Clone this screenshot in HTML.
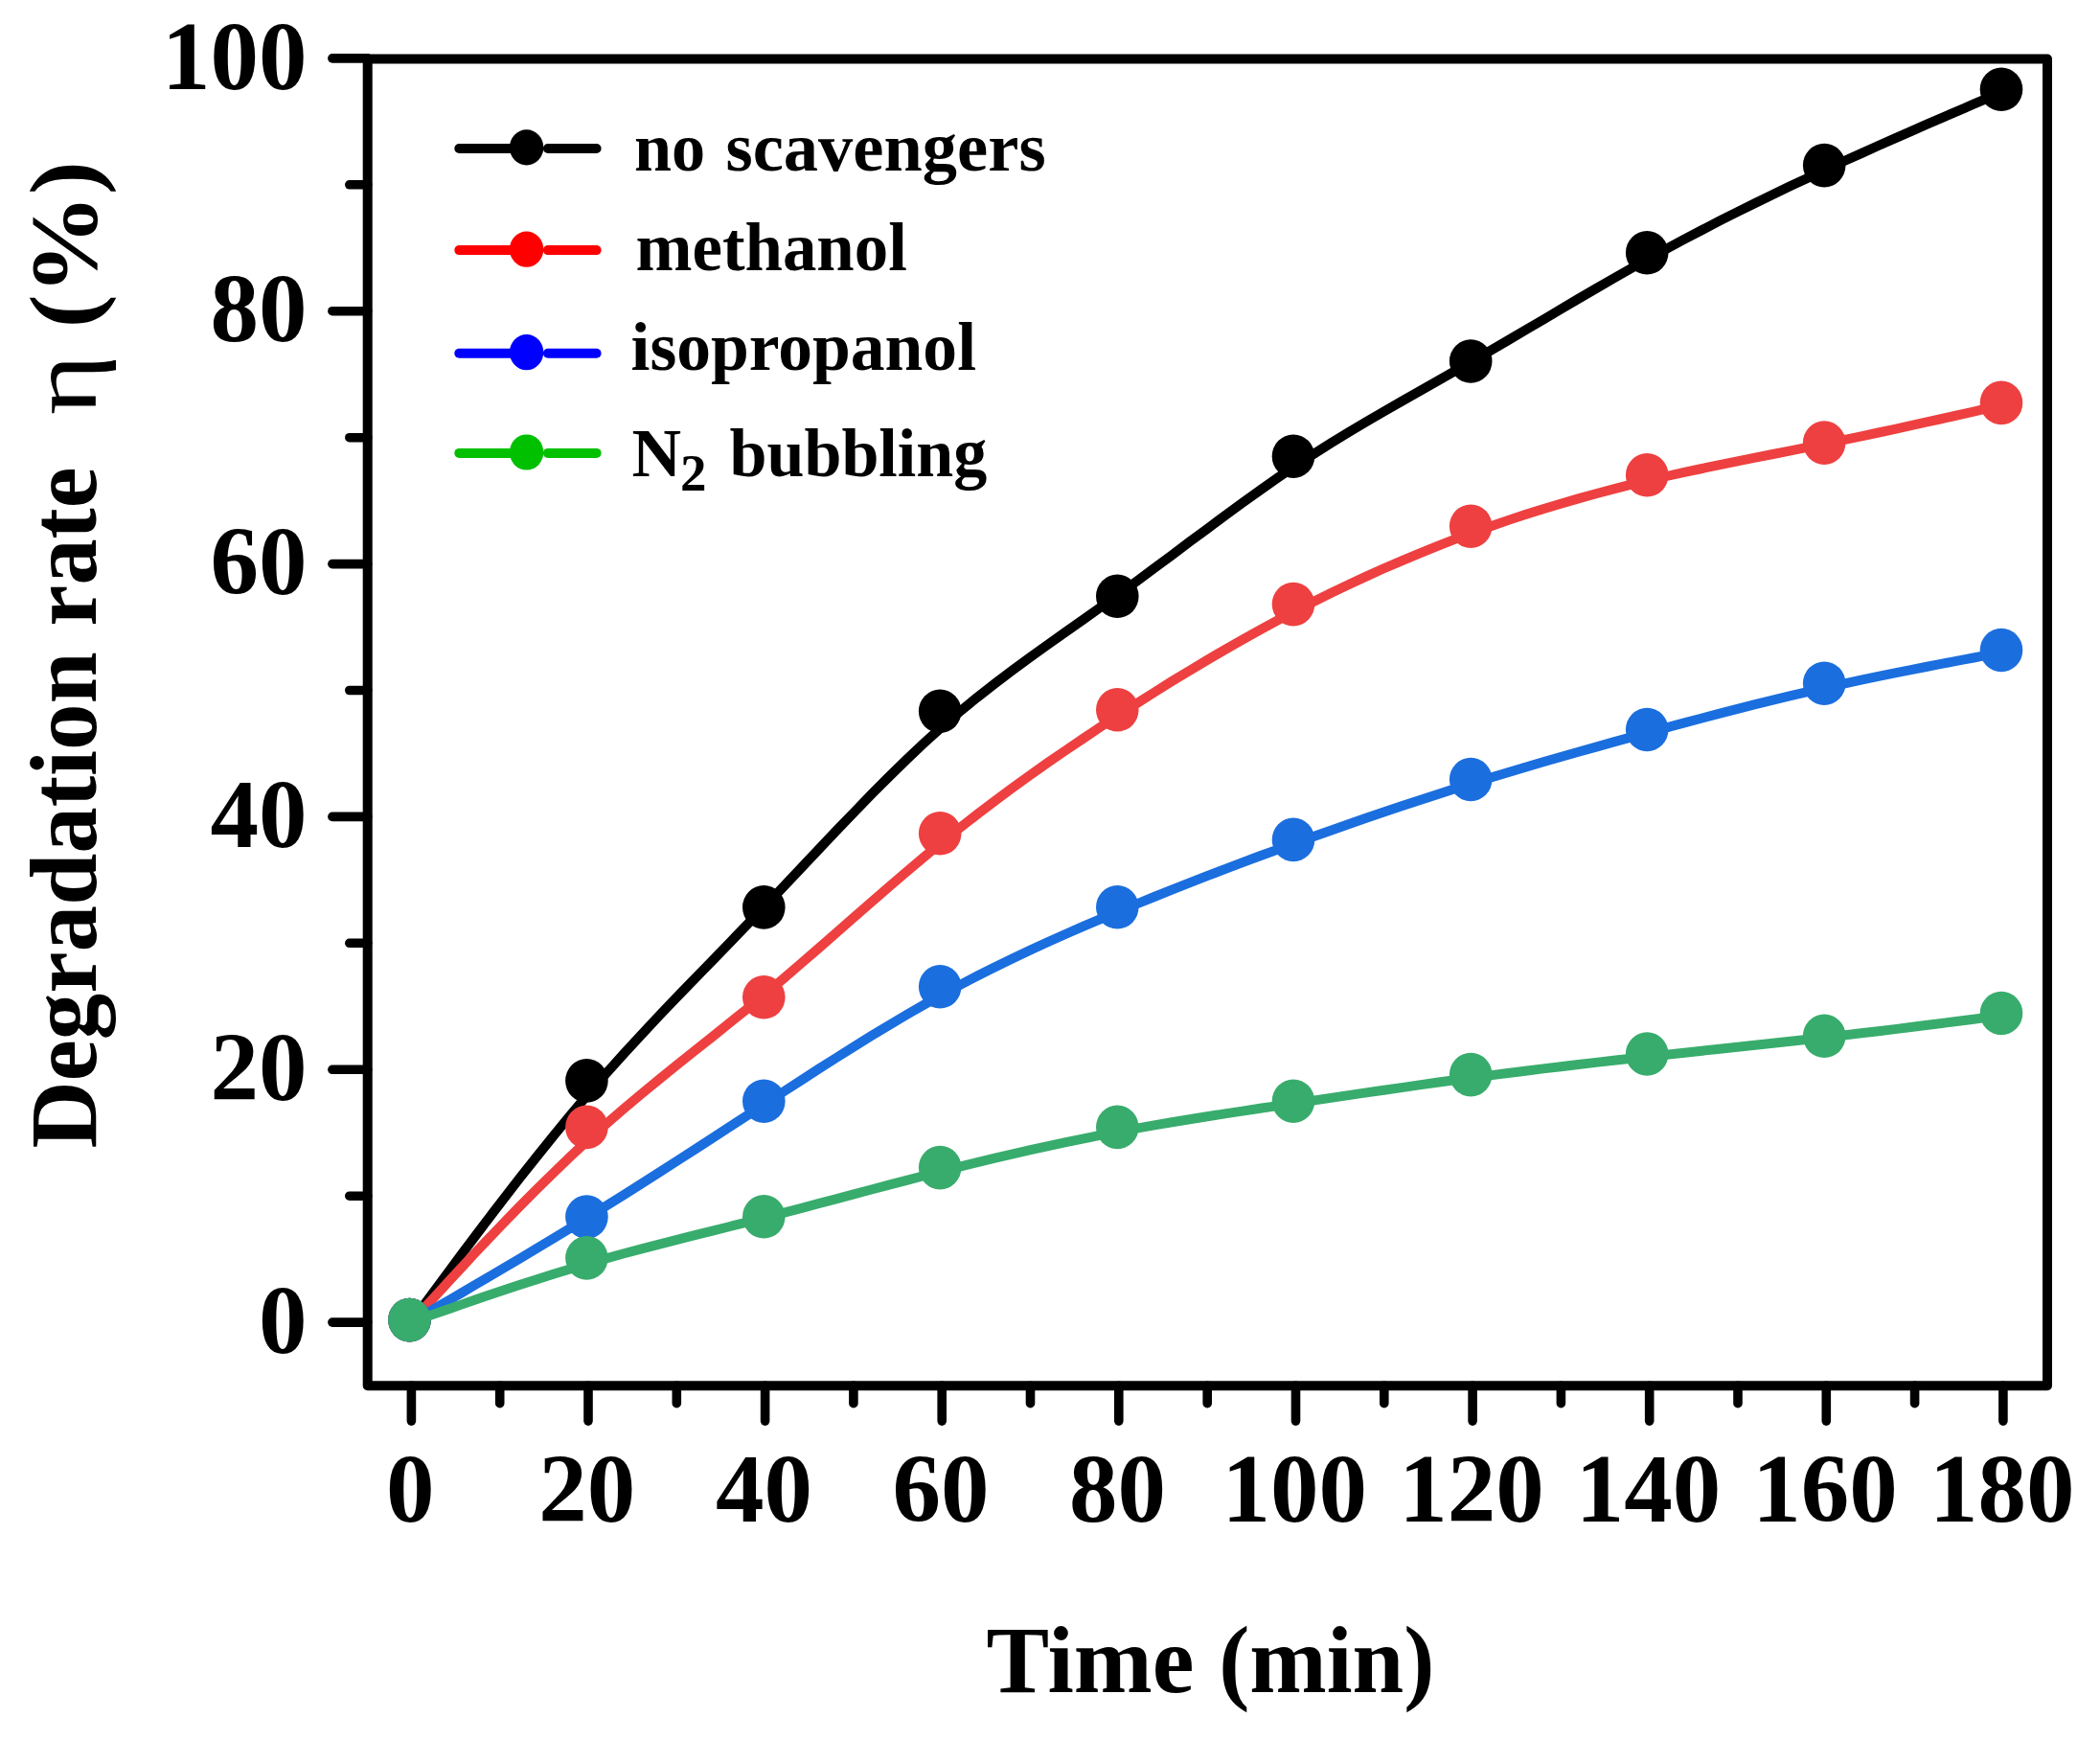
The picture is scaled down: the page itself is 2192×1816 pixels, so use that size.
<!DOCTYPE html>
<html lang="en"><head><meta charset="utf-8"><title>Degradation rate vs time</title>
<style>
html,body{margin:0;padding:0;background:#fff;}
body{width:2192px;height:1816px;overflow:hidden;}
svg{display:block;}
text{font-family:"Liberation Serif",serif;font-weight:bold;fill:#000;}
.tk{font-size:101px;}
</style></head><body>
<svg width="2192" height="1816" viewBox="0 0 2192 1816">
<rect x="0" y="0" width="2192" height="1816" fill="#ffffff"/>

<g stroke="#000" stroke-width="9.6" stroke-linecap="round" fill="none">
<line x1="346.9" y1="1380.1" x2="383.7" y2="1380.1"/>
<line x1="364.8" y1="1248.2" x2="383.7" y2="1248.2"/>
<line x1="346.9" y1="1116.3" x2="383.7" y2="1116.3"/>
<line x1="364.8" y1="984.3" x2="383.7" y2="984.3"/>
<line x1="346.9" y1="852.4" x2="383.7" y2="852.4"/>
<line x1="364.8" y1="720.5" x2="383.7" y2="720.5"/>
<line x1="346.9" y1="588.6" x2="383.7" y2="588.6"/>
<line x1="364.8" y1="456.7" x2="383.7" y2="456.7"/>
<line x1="346.9" y1="324.7" x2="383.7" y2="324.7"/>
<line x1="364.8" y1="192.8" x2="383.7" y2="192.8"/>
<line x1="346.9" y1="60.9" x2="383.7" y2="60.9"/>
<line x1="429.4" y1="1446.2" x2="429.4" y2="1483.1"/>
<line x1="521.7" y1="1446.2" x2="521.7" y2="1464.7"/>
<line x1="614.0" y1="1446.2" x2="614.0" y2="1483.1"/>
<line x1="706.3" y1="1446.2" x2="706.3" y2="1464.7"/>
<line x1="798.6" y1="1446.2" x2="798.6" y2="1483.1"/>
<line x1="890.9" y1="1446.2" x2="890.9" y2="1464.7"/>
<line x1="983.2" y1="1446.2" x2="983.2" y2="1483.1"/>
<line x1="1075.5" y1="1446.2" x2="1075.5" y2="1464.7"/>
<line x1="1167.8" y1="1446.2" x2="1167.8" y2="1483.1"/>
<line x1="1260.2" y1="1446.2" x2="1260.2" y2="1464.7"/>
<line x1="1352.5" y1="1446.2" x2="1352.5" y2="1483.1"/>
<line x1="1444.8" y1="1446.2" x2="1444.8" y2="1464.7"/>
<line x1="1537.1" y1="1446.2" x2="1537.1" y2="1483.1"/>
<line x1="1629.4" y1="1446.2" x2="1629.4" y2="1464.7"/>
<line x1="1721.7" y1="1446.2" x2="1721.7" y2="1483.1"/>
<line x1="1814.0" y1="1446.2" x2="1814.0" y2="1464.7"/>
<line x1="1906.3" y1="1446.2" x2="1906.3" y2="1483.1"/>
<line x1="1998.6" y1="1446.2" x2="1998.6" y2="1464.7"/>
<line x1="2090.9" y1="1446.2" x2="2090.9" y2="1483.1"/>
</g>
<rect x="383.7" y="61.6" width="1753.3" height="1384.6" fill="none" stroke="#000" stroke-width="10" stroke-linejoin="round"/>
<path d="M429.4,1379.8 L429.4,1379.8 L429.6,1379.5 L430.2,1378.7 L431.4,1377.1 L433.3,1374.6 L436.1,1370.8 L440.0,1365.5 L445.2,1358.5 L451.9,1349.5 L460.2,1338.2 L470.4,1324.5 L482.2,1308.6 L495.4,1290.9 L510.0,1271.7 L525.7,1251.2 L542.3,1229.8 L559.7,1207.8 L577.6,1185.6 L595.8,1163.4 L614.3,1141.5 L632.8,1120.3 L651.3,1099.7 L669.8,1079.6 L688.2,1059.9 L706.7,1040.5 L725.2,1021.4 L743.7,1002.4 L762.1,983.4 L780.6,964.3 L799.0,945.2 L817.5,925.8 L835.9,906.3 L854.3,886.8 L872.7,867.3 L891.2,848.1 L909.6,829.1 L928.0,810.6 L946.4,792.6 L964.9,775.2 L983.3,758.6 L1001.8,742.8 L1020.2,727.7 L1038.7,713.2 L1057.2,699.3 L1075.6,685.7 L1094.1,672.5 L1112.6,659.4 L1131.1,646.4 L1149.5,633.3 L1168.0,620.1 L1186.4,606.7 L1204.8,593.1 L1223.2,579.4 L1241.6,565.6 L1260.1,551.9 L1278.5,538.2 L1296.9,524.8 L1315.3,511.6 L1333.7,498.7 L1352.1,486.2 L1370.6,474.2 L1389.1,462.5 L1407.5,451.3 L1426.0,440.3 L1444.5,429.5 L1463.0,418.9 L1481.5,408.4 L1500.0,397.9 L1518.4,387.4 L1536.9,376.9 L1555.4,366.2 L1573.8,355.4 L1592.2,344.5 L1610.7,333.7 L1629.1,322.8 L1647.5,311.9 L1666.0,301.2 L1684.4,290.5 L1702.8,280.0 L1721.3,269.7 L1739.7,259.6 L1758.2,249.7 L1776.7,240.0 L1795.1,230.4 L1813.6,221.1 L1832.1,211.9 L1850.6,202.9 L1869.1,194.1 L1887.6,185.4 L1906.1,176.8 L1924.5,168.3 L1942.8,160.1 L1960.7,152.0 L1978.0,144.4 L1994.6,137.1 L2010.3,130.2 L2024.9,123.9 L2038.2,118.1 L2050.0,113.1 L2060.1,108.7 L2068.4,105.1 L2075.1,102.3 L2080.3,100.0 L2084.2,98.4 L2087.1,97.2 L2088.9,96.3 L2090.1,95.9 L2090.7,95.6 L2090.9,95.5 L2090.9,95.5" fill="none" stroke="#000000" stroke-width="10" stroke-linejoin="round" stroke-linecap="round"/>
<g fill="#000000"><ellipse cx="427.5" cy="1377.6" rx="22.3" ry="22.8"/><ellipse cx="612.4" cy="1127.9" rx="22.3" ry="22.8"/><ellipse cx="797.3" cy="946.9" rx="22.3" ry="22.8"/><ellipse cx="981.2" cy="742.3" rx="22.3" ry="22.8"/><ellipse cx="1166.3" cy="622.3" rx="22.3" ry="22.8"/><ellipse cx="1350.0" cy="476.2" rx="22.3" ry="22.8"/><ellipse cx="1535.2" cy="377.0" rx="22.3" ry="22.8"/><ellipse cx="1719.2" cy="263.8" rx="22.3" ry="22.8"/><ellipse cx="1904.2" cy="172.6" rx="22.3" ry="22.8"/><ellipse cx="2089.0" cy="93.3" rx="22.3" ry="22.8"/></g>
<path d="M429.4,1379.8 L429.4,1379.8 L429.6,1379.5 L430.2,1378.9 L431.4,1377.7 L433.3,1375.6 L436.1,1372.6 L440.0,1368.3 L445.2,1362.6 L451.9,1355.4 L460.2,1346.3 L470.4,1335.2 L482.2,1322.5 L495.4,1308.2 L510.0,1292.8 L525.7,1276.4 L542.3,1259.3 L559.7,1241.8 L577.6,1224.2 L595.8,1206.7 L614.3,1189.5 L632.8,1173.0 L651.3,1157.0 L669.8,1141.5 L688.2,1126.3 L706.7,1111.4 L725.2,1096.7 L743.7,1082.0 L762.1,1067.2 L780.6,1052.3 L799.0,1037.1 L817.5,1021.6 L835.9,1005.8 L854.3,989.9 L872.7,973.8 L891.2,957.6 L909.6,941.5 L928.0,925.5 L946.4,909.7 L964.9,894.2 L983.3,879.0 L1001.8,864.2 L1020.2,849.8 L1038.7,835.8 L1057.2,822.1 L1075.6,808.8 L1094.1,795.7 L1112.6,783.0 L1131.1,770.5 L1149.5,758.2 L1168.0,746.1 L1186.4,734.3 L1204.8,722.6 L1223.2,711.1 L1241.6,699.9 L1260.1,688.9 L1278.5,678.1 L1296.9,667.6 L1315.3,657.3 L1333.7,647.3 L1352.1,637.6 L1370.6,628.2 L1389.1,619.0 L1407.5,610.2 L1426.0,601.6 L1444.5,593.3 L1463.0,585.3 L1481.5,577.6 L1500.0,570.1 L1518.4,562.9 L1536.9,556.1 L1555.4,549.5 L1573.8,543.1 L1592.2,537.1 L1610.7,531.3 L1629.1,525.7 L1647.5,520.4 L1666.0,515.3 L1684.4,510.4 L1702.8,505.7 L1721.3,501.3 L1739.7,497.0 L1758.2,492.9 L1776.7,489.0 L1795.1,485.1 L1813.6,481.4 L1832.1,477.7 L1850.6,474.0 L1869.1,470.4 L1887.6,466.7 L1906.1,463.0 L1924.5,459.2 L1942.8,455.3 L1960.7,451.5 L1978.0,447.8 L1994.6,444.2 L2010.3,440.7 L2024.9,437.5 L2038.2,434.5 L2050.0,431.8 L2060.1,429.6 L2068.4,427.7 L2075.1,426.2 L2080.3,425.0 L2084.2,424.1 L2087.1,423.5 L2088.9,423.0 L2090.1,422.8 L2090.7,422.7 L2090.9,422.6 L2090.9,422.6" fill="none" stroke="#ee4040" stroke-width="10" stroke-linejoin="round" stroke-linecap="round"/>
<g fill="#ee4040"><ellipse cx="427.5" cy="1377.6" rx="22.3" ry="22.8"/><ellipse cx="612.4" cy="1176.4" rx="22.3" ry="22.8"/><ellipse cx="797.3" cy="1040.8" rx="22.3" ry="22.8"/><ellipse cx="981.2" cy="869.8" rx="22.3" ry="22.8"/><ellipse cx="1166.3" cy="740.8" rx="22.3" ry="22.8"/><ellipse cx="1350.0" cy="630.6" rx="22.3" ry="22.8"/><ellipse cx="1535.2" cy="549.2" rx="22.3" ry="22.8"/><ellipse cx="1719.2" cy="495.8" rx="22.3" ry="22.8"/><ellipse cx="1904.2" cy="462.1" rx="22.3" ry="22.8"/><ellipse cx="2089.0" cy="420.4" rx="22.3" ry="22.8"/></g>
<path d="M429.4,1379.8 L429.4,1379.8 L429.6,1379.7 L430.2,1379.3 L431.4,1378.7 L433.3,1377.6 L436.1,1375.9 L440.0,1373.7 L445.2,1370.6 L451.9,1366.7 L460.2,1361.9 L470.4,1356.0 L482.2,1349.1 L495.4,1341.3 L510.0,1332.8 L525.7,1323.5 L542.3,1313.7 L559.7,1303.3 L577.6,1292.5 L595.8,1281.4 L614.3,1270.1 L632.8,1258.6 L651.3,1247.0 L669.8,1235.3 L688.2,1223.5 L706.7,1211.6 L725.2,1199.7 L743.7,1187.7 L762.1,1175.7 L780.6,1163.7 L799.0,1151.7 L817.5,1139.6 L835.9,1127.7 L854.3,1115.8 L872.7,1104.1 L891.2,1092.5 L909.6,1081.1 L928.0,1069.9 L946.4,1059.0 L964.9,1048.4 L983.3,1038.1 L1001.8,1028.1 L1020.2,1018.5 L1038.7,1009.2 L1057.2,1000.2 L1075.6,991.5 L1094.1,983.0 L1112.6,974.8 L1131.1,966.7 L1149.5,958.8 L1168.0,951.1 L1186.4,943.5 L1204.8,936.0 L1223.2,928.6 L1241.6,921.4 L1260.1,914.2 L1278.5,907.2 L1296.9,900.2 L1315.3,893.3 L1333.7,886.6 L1352.1,879.8 L1370.6,873.2 L1389.1,866.7 L1407.5,860.2 L1426.0,853.8 L1444.5,847.5 L1463.0,841.3 L1481.5,835.2 L1500.0,829.2 L1518.4,823.3 L1536.9,817.5 L1555.4,811.8 L1573.8,806.2 L1592.2,800.7 L1610.7,795.3 L1629.1,790.0 L1647.5,784.7 L1666.0,779.6 L1684.4,774.4 L1702.8,769.4 L1721.3,764.3 L1739.7,759.3 L1758.2,754.4 L1776.7,749.5 L1795.1,744.7 L1813.6,739.9 L1832.1,735.2 L1850.6,730.7 L1869.1,726.2 L1887.6,721.9 L1906.1,717.7 L1924.5,713.6 L1942.8,709.7 L1960.7,705.9 L1978.0,702.4 L1994.6,699.1 L2010.3,696.0 L2024.9,693.2 L2038.2,690.6 L2050.0,688.4 L2060.1,686.5 L2068.4,684.9 L2075.1,683.7 L2080.3,682.7 L2084.2,681.9 L2087.1,681.4 L2088.9,681.1 L2090.1,680.9 L2090.7,680.7 L2090.9,680.7 L2090.9,680.7" fill="none" stroke="#1b6ede" stroke-width="10" stroke-linejoin="round" stroke-linecap="round"/>
<g fill="#1b6ede"><ellipse cx="427.5" cy="1377.6" rx="22.3" ry="22.8"/><ellipse cx="612.4" cy="1270.1" rx="22.3" ry="22.8"/><ellipse cx="797.3" cy="1149.2" rx="22.3" ry="22.8"/><ellipse cx="981.2" cy="1029.8" rx="22.3" ry="22.8"/><ellipse cx="1166.3" cy="946.8" rx="22.3" ry="22.8"/><ellipse cx="1350.0" cy="876.4" rx="22.3" ry="22.8"/><ellipse cx="1535.2" cy="813.5" rx="22.3" ry="22.8"/><ellipse cx="1719.2" cy="761.5" rx="22.3" ry="22.8"/><ellipse cx="1904.2" cy="713.2" rx="22.3" ry="22.8"/><ellipse cx="2089.0" cy="678.5" rx="22.3" ry="22.8"/></g>
<path d="M429.4,1379.8 L429.4,1379.8 L429.6,1379.7 L430.2,1379.5 L431.4,1379.1 L433.3,1378.5 L436.1,1377.5 L440.0,1376.1 L445.2,1374.3 L451.9,1371.9 L460.2,1369.0 L470.4,1365.5 L482.2,1361.4 L495.4,1356.8 L510.0,1351.8 L525.7,1346.6 L542.3,1341.1 L559.7,1335.5 L577.6,1329.8 L595.8,1324.2 L614.3,1318.7 L632.8,1313.4 L651.3,1308.3 L669.8,1303.4 L688.2,1298.6 L706.7,1293.8 L725.2,1289.2 L743.7,1284.6 L762.1,1280.0 L780.6,1275.3 L799.0,1270.7 L817.5,1265.9 L835.9,1261.1 L854.3,1256.2 L872.7,1251.3 L891.2,1246.4 L909.6,1241.5 L928.0,1236.6 L946.4,1231.8 L964.9,1227.0 L983.3,1222.3 L1001.8,1217.7 L1020.2,1213.1 L1038.7,1208.7 L1057.2,1204.4 L1075.6,1200.2 L1094.1,1196.1 L1112.6,1192.2 L1131.1,1188.3 L1149.5,1184.6 L1168.0,1181.1 L1186.4,1177.7 L1204.8,1174.4 L1223.2,1171.3 L1241.6,1168.3 L1260.1,1165.3 L1278.5,1162.4 L1296.9,1159.6 L1315.3,1156.8 L1333.7,1154.1 L1352.1,1151.3 L1370.6,1148.6 L1389.1,1145.9 L1407.5,1143.1 L1426.0,1140.4 L1444.5,1137.7 L1463.0,1135.1 L1481.5,1132.4 L1500.0,1129.8 L1518.4,1127.3 L1536.9,1124.8 L1555.4,1122.4 L1573.8,1120.0 L1592.2,1117.7 L1610.7,1115.4 L1629.1,1113.2 L1647.5,1111.0 L1666.0,1108.9 L1684.4,1106.8 L1702.8,1104.7 L1721.3,1102.7 L1739.7,1100.7 L1758.2,1098.7 L1776.7,1096.7 L1795.1,1094.8 L1813.6,1092.8 L1832.1,1090.8 L1850.6,1088.8 L1869.1,1086.8 L1887.6,1084.8 L1906.1,1082.7 L1924.5,1080.5 L1942.8,1078.3 L1960.7,1076.2 L1978.0,1074.1 L1994.6,1072.0 L2010.3,1070.0 L2024.9,1068.2 L2038.2,1066.5 L2050.0,1065.0 L2060.1,1063.7 L2068.4,1062.6 L2075.1,1061.7 L2080.3,1061.1 L2084.2,1060.6 L2087.1,1060.2 L2088.9,1060.0 L2090.1,1059.8 L2090.7,1059.7 L2090.9,1059.7 L2090.9,1059.7" fill="none" stroke="#38ac6c" stroke-width="10" stroke-linejoin="round" stroke-linecap="round"/>
<g fill="#38ac6c"><ellipse cx="427.5" cy="1377.6" rx="22.3" ry="22.8"/><ellipse cx="612.4" cy="1312.9" rx="22.3" ry="22.8"/><ellipse cx="797.3" cy="1269.8" rx="22.3" ry="22.8"/><ellipse cx="981.2" cy="1218.6" rx="22.3" ry="22.8"/><ellipse cx="1166.3" cy="1176.4" rx="22.3" ry="22.8"/><ellipse cx="1350.0" cy="1149.2" rx="22.3" ry="22.8"/><ellipse cx="1535.2" cy="1121.6" rx="22.3" ry="22.8"/><ellipse cx="1719.2" cy="1100.0" rx="22.3" ry="22.8"/><ellipse cx="1904.2" cy="1081.3" rx="22.3" ry="22.8"/><ellipse cx="2089.0" cy="1057.5" rx="22.3" ry="22.8"/></g>
<g stroke="#000000" stroke-width="10" stroke-linecap="round"><line x1="479.3" y1="155.0" x2="549" y2="155.0"/><line x1="571.9" y1="155.0" x2="622.6" y2="155.0"/></g>
<ellipse cx="549.6" cy="153.9" rx="17.7" ry="18.6" fill="#000000"/>
<g stroke="#ff0000" stroke-width="10" stroke-linecap="round"><line x1="479.3" y1="261.1" x2="549" y2="261.1"/><line x1="571.9" y1="261.1" x2="622.6" y2="261.1"/></g>
<ellipse cx="549.6" cy="260.2" rx="17.7" ry="18.6" fill="#ff0000"/>
<g stroke="#0000ff" stroke-width="10" stroke-linecap="round"><line x1="479.3" y1="368.8" x2="549" y2="368.8"/><line x1="571.9" y1="368.8" x2="622.6" y2="368.8"/></g>
<ellipse cx="549.6" cy="367.7" rx="17.7" ry="18.6" fill="#0000ff"/>
<g stroke="#00c000" stroke-width="10" stroke-linecap="round"><line x1="479.3" y1="472.9" x2="549" y2="472.9"/><line x1="571.9" y1="472.9" x2="622.6" y2="472.9"/></g>
<ellipse cx="549.6" cy="472.0" rx="17.7" ry="18.6" fill="#00c000"/>
<text class="tk" x="320.4" y="1411.7" text-anchor="end">0</text>
<text class="tk" x="320.4" y="1147.9" text-anchor="end">20</text>
<text class="tk" x="320.4" y="884.0" text-anchor="end">40</text>
<text class="tk" x="320.4" y="620.2" text-anchor="end">60</text>
<text class="tk" x="320.4" y="356.3" text-anchor="end">80</text>
<text class="tk" x="320.4" y="92.5" text-anchor="end">100</text>
<text class="tk" x="428.2" y="1587.9" text-anchor="middle">0</text>
<text class="tk" x="612.8" y="1587.9" text-anchor="middle">20</text>
<text class="tk" x="797.4" y="1587.9" text-anchor="middle">40</text>
<text class="tk" x="982.0" y="1587.9" text-anchor="middle">60</text>
<text class="tk" x="1166.6" y="1587.9" text-anchor="middle">80</text>
<text class="tk" x="1351.3" y="1587.9" text-anchor="middle">100</text>
<text class="tk" x="1535.9" y="1587.9" text-anchor="middle">120</text>
<text class="tk" x="1720.5" y="1587.9" text-anchor="middle">140</text>
<text class="tk" x="1905.1" y="1587.9" text-anchor="middle">160</text>
<text class="tk" x="2089.7" y="1587.9" text-anchor="middle">180</text>
<text transform="translate(1029.52,1765.9) scale(0.9843,1)" style="font-size:100px;font-weight:bold">Time</text>
<text transform="translate(1272.16,1765.9) scale(0.9653,1)" style="font-size:100px;font-weight:bold">(min)</text>
<text transform="translate(662.05,178.4) scale(0.9751,1)" style="font-size:72px;font-weight:bold">no</text>
<text transform="translate(757.49,178.4) scale(1.0067,1)" style="font-size:72px;font-weight:bold">scavengers</text>
<text transform="translate(663.52,281.7) scale(0.9839,1)" style="font-size:72px;font-weight:bold">methanol</text>
<text transform="translate(658.50,386.1) scale(0.9939,1)" style="font-size:72px;font-weight:bold">isopropanol</text>
<text transform="translate(659.50,497.4) scale(0.9923,1)" style="font-size:72px;font-weight:bold">N</text>
<text transform="translate(710.00,511.5) scale(1.0000,1)" style="font-size:55px;font-weight:bold">2</text>
<text transform="translate(761.52,497.4) scale(0.9731,1)" style="font-size:72px;font-weight:bold">bubbling</text>
<text transform="translate(100.4,1198.48) rotate(-90) scale(0.9718,1)" style="font-size:100px;font-weight:bold">Degradation</text>
<text transform="translate(100.4,653.41) rotate(-90) scale(0.9641,1)" style="font-size:100px;font-weight:bold">rate</text>
<text transform="translate(100.4,433.22) rotate(-90) scale(1.2176,1)" style="font-size:100px;font-weight:normal">η</text>
<text transform="translate(100.4,342.21) rotate(-90) scale(1.0443,1)" style="font-size:100px;font-weight:bold">(%)</text>
</svg></body></html>
